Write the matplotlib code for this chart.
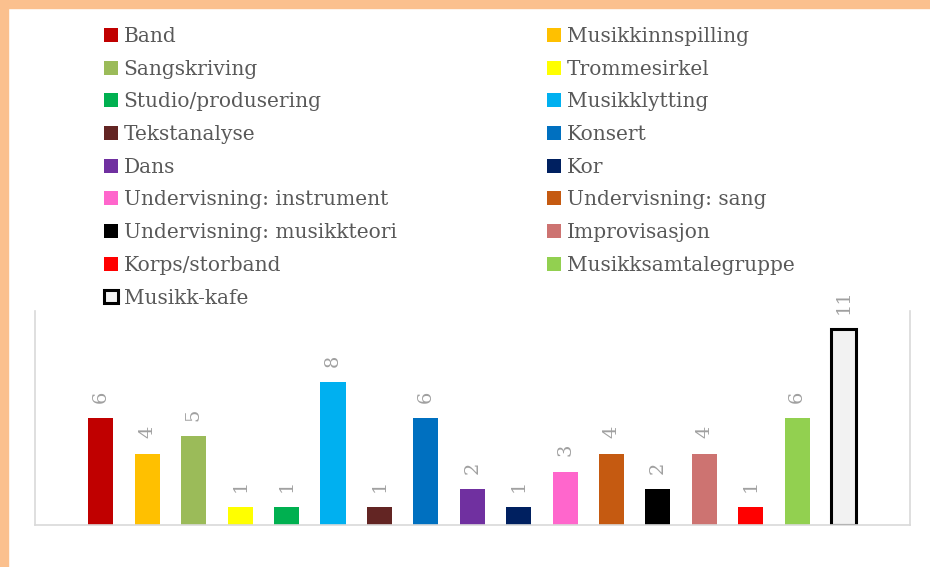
import matplotlib.pyplot as plt
import matplotlib.patches as mpatches
import numpy as np

# data
categories = ["Band", "Musikkinnspilling", "Sangskriving", "Trommesirkel",
              "Studio/produsering", "Musikklytting", "Tekstanalyse", "Konsert",
              "Dans", "Kor", "Undervisning: instrument", "Undervisning: sang",
              "Undervisning: musikkteori", "Improvisasjon", "Korps/storband",
              "Musikksamtalegruppe", "Musikk-kafe"]
values = [6, 4, 5, 1, 1, 8, 1, 6, 2, 1, 3, 4, 2, 4, 1, 6, 11]
colors = ["#C00000", "#FFC000", "#9BBB59", "#FFFF00", "#00B050", "#00B0F0",
          "#632523", "#0070C0", "#7030A0", "#002060", "#FF66CC", "#C55A11",
          "#000000", "#CD7371", "#FF0000", "#92D050", "#F2F2F2"]

plt.rcParams['font.family'] = ['DejaVu Serif']

fig = plt.figure(figsize=(9.3, 5.67), dpi=100)

# orange frame top/left
fig.patches.append(mpatches.Rectangle((0, 1 - 8/567), 1, 8/567, transform=fig.transFigure,
                                      color="#FBC08E", zorder=0))
fig.patches.append(mpatches.Rectangle((0, 0), 8/930, 1, transform=fig.transFigure,
                                      color="#FBC08E", zorder=0))

ax = fig.add_axes([35/930, 42/567, 875/930, 214/567])
x = np.arange(len(categories))
bars = []
for i, (v, c) in enumerate(zip(values, colors)):
    last = i == len(values) - 1
    b = ax.bar(x[i], v, 0.54, color=c, label=categories[i],
               edgecolor='black' if last else c, linewidth=2.2 if last else 0)
    bars.append(b)
    ax.annotate(str(v), (x[i], v), xytext=(0, 11), textcoords='offset points',
                rotation=90, ha='center', va='bottom', fontsize=14, color='#A0A0A0')

ax.set_xlim(-1.42, 17.43)
ax.set_ylim(0, 12)
ax.set_xticks([])
ax.set_yticks([])
for s in ['left', 'right', 'bottom']:
    ax.spines[s].set_color('#D9D9D9')
    ax.spines[s].set_linewidth(1.2)
ax.spines['top'].set_visible(False)

# legend: two columns, row-major order
handles = [b.patches[0] for b in bars]
kw = dict(frameon=False, fontsize=14.5, labelcolor='#595959', handlelength=0.68,
          handleheight=0.68, handletextpad=0.3, labelspacing=0.68, borderpad=0,
          borderaxespad=0, loc='upper left')
leg1 = fig.legend(handles[0::2], categories[0::2], bbox_to_anchor=(104/930, 1 - 27/567), **kw)
leg2 = fig.legend(handles[1::2], categories[1::2], bbox_to_anchor=(547/930, 1 - 27/567), **kw)

plt.savefig('out.png', dpi=100)
